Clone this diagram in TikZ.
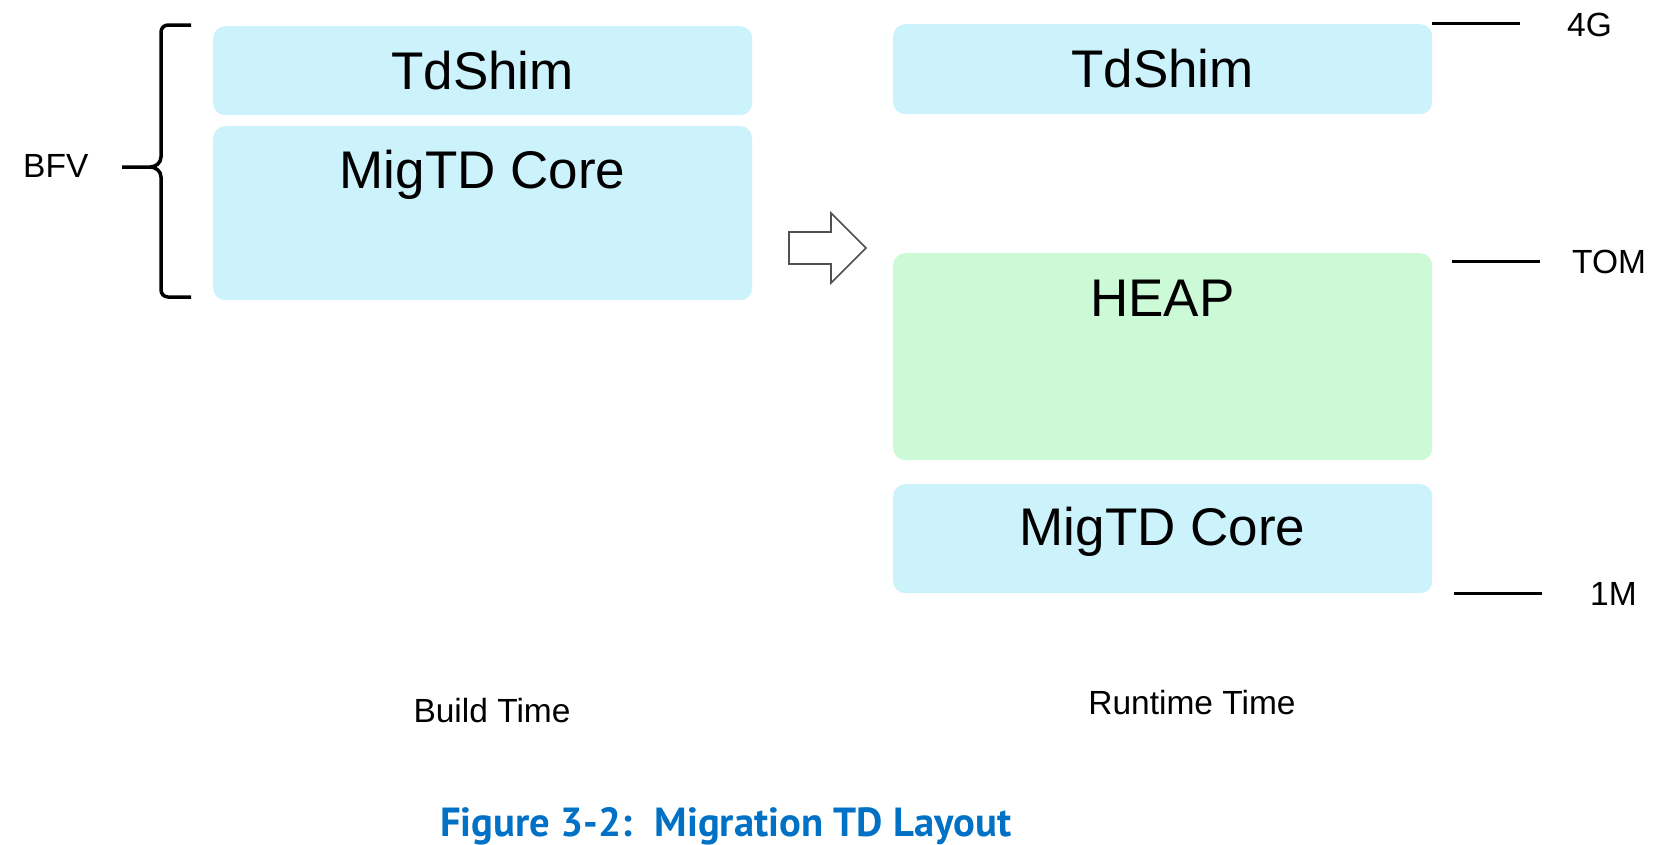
\documentclass[tikz,border=0pt]{standalone}
\usepackage{fontspec}
\setmainfont{Liberation Sans}
\newfontfamily\capfont{PT Sans}
\definecolor{boxblue}{RGB}{204,242,252}
\definecolor{boxgreen}{RGB}{204,250,214}
\definecolor{capblue}{RGB}{0,113,197}
\definecolor{arrowgray}{RGB}{80,80,80}
\tikzset{
  membox/.style={rectangle, rounded corners=12pt, draw=none, inner sep=0pt, anchor=north west},
  bigtxt/.style={font=\fontsize{53}{60}\selectfont, anchor=base, inner sep=0pt},
  smalltxt/.style={font=\fontsize{33.5}{40}\selectfont, inner sep=0pt},
  tick/.style={line width=3pt},
  bracepath/.style={line width=3.5pt, line join=round},
}
\begin{document}
\begin{tikzpicture}[x=1pt,y=-1pt]
\useasboundingbox (0,0) rectangle (1657,844);
% left column
\node[membox, fill=boxblue, minimum width=539pt, minimum height=89pt] (ltd) at (213,26) {};
\node[membox, fill=boxblue, minimum width=539pt, minimum height=174pt] (lcore) at (213,126) {};
\node[bigtxt] (ltdt) at (482.5,89) {TdShim};
\node[bigtxt] (lcoret) at (482.5,188) {MigTD Core};
% brace
\draw[bracepath] (191,25) -- (168,25) to[out=180,in=90] (161,32) -- (161,157)
  to[out=-90,in=0] (150,167) -- (122,167);
\draw[bracepath] (150,167) to[out=0,in=90] (161,177) -- (161,290)
  to[out=-90,in=180] (168,297) -- (191,297);
\node[smalltxt, anchor=base west] (bfv) at (23,177) {BFV};
% transition arrow
\draw[arrowgray, line width=1.6pt, line join=miter, fill=white]
  (789,232) -- (831,232) -- (831,213) -- (866,248) -- (831,283) -- (831,264) -- (789,264) -- cycle;
% right column
\node[membox, fill=boxblue, minimum width=539pt, minimum height=90pt] (rtd) at (893,24) {};
\node[membox, fill=boxgreen, minimum width=539pt, minimum height=207pt] (heap) at (893,253) {};
\node[membox, fill=boxblue, minimum width=539pt, minimum height=109pt] (rcore) at (893,484) {};
\node[bigtxt] (rtdt) at (1162.5,87) {TdShim};
\node[bigtxt] (heapt) at (1162.5,316) {HEAP};
\node[bigtxt] (rcoret) at (1162.5,545) {MigTD Core};
% address ticks
\coordinate (g4a) at (1432,23);  \coordinate (g4b) at (1520,23);
\coordinate (toma) at (1452,261); \coordinate (tomb) at (1540,261);
\coordinate (m1a) at (1454,593); \coordinate (m1b) at (1542,593);
\draw[tick] (g4a) -- (g4b);
\draw[tick] (toma) -- (tomb);
\draw[tick] (m1a) -- (m1b);
\node[smalltxt, anchor=base west] (g4t) at (1567,36) {4G};
\node[smalltxt, anchor=base west] (tomt) at (1572,273) {TOM};
\node[smalltxt, anchor=base west] (m1t) at (1590,605) {1M};
% bottom labels
\node[smalltxt, anchor=base] (build) at (492,722) {Build Time};
\node[smalltxt, anchor=base] (run) at (1192,714) {Runtime Time};
\node[anchor=base west, inner sep=0pt, text=capblue] (cap) at (440,836)
  {\resizebox{571pt}{!}{\capfont\bfseries\fontsize{41}{48}\selectfont Figure 3-2:\hspace{0.55em}Migration TD Layout}};
\end{tikzpicture}
\end{document}
